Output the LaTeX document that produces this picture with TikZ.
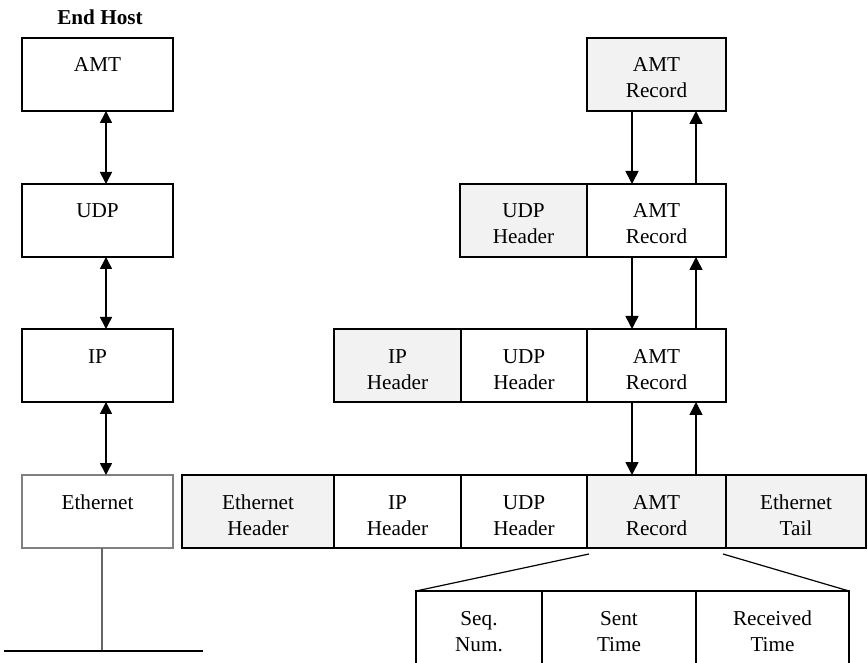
\documentclass[tikz,border=0pt]{standalone}
\usepackage{fontspec}
\setmainfont{Liberation Serif}
\usetikzlibrary{positioning, arrows.meta}
\definecolor{hdrgray}{HTML}{F2F2F2}
\tikzset{
  cell/.style = {draw, line width=0.9pt, minimum height=36.5pt, inner sep=0pt,
    outer sep=0pt, align=center, font=\fontsize{10.6}{13}\selectfont,
    text height=23.5pt, text depth=0pt},
  layer/.style = {cell, minimum width=75.5pt},
  hdr/.style = {cell, fill=hdrgray, minimum width=63.5pt},
  plain/.style = {cell, minimum width=63pt},
  rec/.style = {cell, minimum width=69.5pt},
  pass/.style = {-{Triangle[width=6.5pt,length=6.5pt]}, line width=0.8pt},
  both/.style = {{Triangle[width=6pt,length=6pt]}-{Triangle[width=6pt,length=6pt]}, line width=0.8pt}
}

\begin{document}
\begin{tikzpicture}[x=0.5pt, y=-0.5pt, node distance=0pt]
  \useasboundingbox (0,0) rectangle (868,663);

  % protocol stack of the host
  \node[font=\bfseries\fontsize{10.6}{13}\selectfont] (host) at (100,17) {End Host};
  \node[layer] (amt) at (97.5,74.5) {AMT\\~};
  \node[layer] (udp) at (97.5,220.5) {UDP\\~};
  \node[layer] (ip) at (97.5,365.5) {IP\\~};
  \node[layer, draw=black!50] (eth) at (97.5,511.5) {Ethernet\\~};

  \coordinate (stack) at (106,0);
  \draw[both] (amt.south -| stack) -- (udp.north -| stack);
  \draw[both] (udp.south -| stack) -- (ip.north -| stack);
  \draw[both] (ip.south -| stack) -- (eth.north -| stack);

  \coordinate (tap) at (102,651);
  \coordinate (lanL) at (4,651);
  \coordinate (lanR) at (203,651);
  \draw[black!60, line width=0.8pt] (eth.south -| tap) -- (tap);
  \draw[line width=0.9pt] (lanL) -- (lanR);

  % encapsulation
  \node[rec, fill=hdrgray] (recA) at (656.5,74.5) {AMT\\Record};

  \node[rec] (recB) at (656.5,220.5) {AMT\\Record};
  \node[hdr, left=of recB] (udpB) {UDP\\Header};

  \node[rec] (recC) at (656.5,365.5) {AMT\\Record};
  \node[plain, left=of recC] (udpC) {UDP\\Header};
  \node[hdr, left=of udpC] (ipC) {IP\\Header};

  \node[rec, fill=hdrgray] (recD) at (656.5,511.5) {AMT\\Record};
  \node[plain, left=of recD] (udpD) {UDP\\Header};
  \node[plain, minimum width=63.5pt, left=of udpD] (ipD) {IP\\Header};
  \node[hdr, minimum width=76pt, left=of ipD] (ethD) {Ethernet\\Header};
  \node[rec, fill=hdrgray, minimum width=70pt, right=of recD] (tailD) {Ethernet\\Tail};

  \coordinate (dn) at (632,0);
  \coordinate (up) at (696,0);
  \foreach \a/\b in {recA/recB, recB/recC, recC/recD} {
    \draw[pass] (\a.south -| dn) -- (\b.north -| dn);
    \draw[pass] (\b.north -| up) -- (\a.south -| up);
  }

  % fields of the record
  \node[plain] (seq) at (479,627.5) {Seq.\\Num.};
  \node[cell, minimum width=77pt, right=of seq] (sent) {Sent\\Time};
  \node[cell, minimum width=76.5pt, right=of sent] (recv) {Received\\Time};

  \draw[line width=0.6pt] ([shift={(2,6)}]recD.south west) -- (seq.north west);
  \draw[line width=0.6pt] ([shift={(-3,6)}]recD.south east) -- (recv.north east);
\end{tikzpicture}
\end{document}
